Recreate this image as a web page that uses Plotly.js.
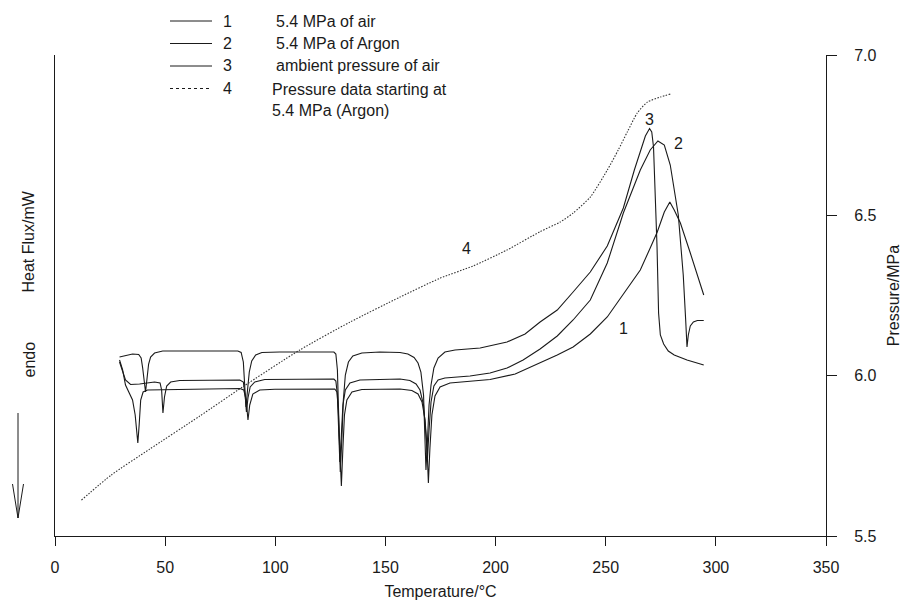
<!DOCTYPE html>
<html>
<head>
<meta charset="utf-8">
<script src="https://cdn.plot.ly/plotly-3.0.1.min.js"></script>
<style>html,body{margin:0;padding:0;background:#fff;}#chart{width:902px;height:607px;}</style>
</head>
<body>
<div id="chart"></div>
<script>
// ---- data ----
const curve1T = [29.3,30.7,32.0,33.4,35.2,36.4,37.0,37.6,38.2,38.9,40.0,42.0,83.9,85.7,86.8,87.6,88.4,89.8,92.95,99.8,127.0,128.0,128.6,129.3,130.0,130.7,131.4,132.5,134.8,139.3,156.6,162.0,164.8,166.6,168.0,168.9,169.5,170.2,171.1,172.5,174.8,179.3,188.4,197.5,208.9,220.2,228,235.2,243,250.7,258.9,265.7,270.2,273.4,276.6,279.1,281.1,283.9,288.4,291.6,294.5];
const curve1HF = [17.6,16.6,15.1,14.4,13.6,12.1,10.6,9.3,11.1,13.6,14.4,14.6,14.75,14.6,13.6,11.6,13.1,14.2,14.6,14.67,14.7,14.4,12.6,8.8,5.0,8.8,12.1,13.6,14.4,14.65,14.7,14.55,14.2,13.4,11.6,8.8,5.3,8.8,12.1,14.0,14.9,15.3,15.5,15.65,16.2,17.3,18.1,18.9,20.2,21.9,24.4,26.6,28.8,30.4,32.4,33.4,32.6,31.3,28.3,26.1,24.1];

const curve2T = [29.3,30.7,32.0,34.3,38.4,45.2,47.7,48.4,49.0,49.7,50.7,52.5,56.6,83.9,85.5,86.3,86.9,87.6,88.6,90.7,95.2,126.6,127.5,128.2,128.9,129.3,130.0,130.7,131.8,133.9,138.4,156.6,161.1,163.9,165.7,167.3,168.4,169.1,169.8,170.7,172.0,173.9,177.0,188.4,197.5,205.2,212.5,220.2,228,235.2,243,250.7,258,265.7,270.2,273.7,276.6,279.3,282.95,285.2,286.3,286.9,287.5,288.4,289.8,291.6,294.5];
const curve2HF = [17.4,16.4,15.6,15.15,15.2,15.4,15.3,14.6,12.3,13.9,15.0,15.4,15.55,15.6,15.4,14.1,12.4,13.8,14.9,15.4,15.65,15.7,15.5,14.1,10.6,7.4,10.1,13.1,14.6,15.3,15.6,15.7,15.55,15.2,14.6,13.1,10.1,7.8,10.6,13.4,15.0,15.6,15.8,16.0,16.3,16.8,17.6,18.7,20.0,21.6,23.6,27.3,32.3,36.6,38.6,39.5,39.1,37.1,32.1,26.1,21.6,18.9,20.1,21.0,21.4,21.55,21.55];

const curve3T = [29.3,32.5,35.2,38.0,39.1,39.8,40.5,41.1,41.8,42.5,43.4,45.2,48.9,65.7,83.0,84.5,85.5,86.1,86.7,87.4,88.2,89.3,91.1,93.9,102,126.6,127.5,128.2,128.9,129.5,130.2,130.9,131.8,133.2,135.2,139.3,147.5,156.6,160.2,163.0,164.8,166.1,167.3,168.0,168.4,169.1,169.8,170.7,172.0,173.9,177.0,181.6,193,205.2,213.4,220.2,228,235.2,243,250.7,258,263,265.7,268,269.9,270.9,271.7,272.5,273.3,274.0,274.8,276.3,278.4,281.1,286.9,294.5];
const curve3HF = [17.9,18.1,18.2,18.15,17.8,16.8,15.3,14.4,15.8,17.2,17.9,18.3,18.5,18.5,18.5,18.35,17.4,15.1,12.9,14.6,16.4,17.5,18.1,18.35,18.4,18.4,18.2,16.6,11.6,6.4,9.6,13.6,16.1,17.4,18.0,18.3,18.4,18.35,18.2,17.85,17.3,16.4,14.1,9.6,6.6,9.6,13.1,15.1,16.8,17.8,18.4,18.6,18.8,19.4,20.2,21.4,22.6,24.4,26.4,29.0,32.8,36.6,38.4,40.0,40.75,40.4,38.9,34.6,28.9,22.3,20.1,19.2,18.5,18.1,17.6,17.1];

const pressT = [12.0,25.5,43.0,65.7,85.2,111.1,133.9,156.6,174.8,189.8,205.2,220.2,229.3,235.2,243,250.7,255.7,259.8,264.3,268.9,274.8,279.3];
const pressP = [5.612,5.690,5.771,5.874,5.965,6.080,6.167,6.245,6.304,6.342,6.392,6.449,6.479,6.507,6.557,6.641,6.704,6.760,6.819,6.853,6.869,6.878];

const legendNumbers = ['1','2','3','4'];
const legendLabels = ['5.4 MPa of air','5.4 MPa of Argon','ambient pressure of air','Pressure data starting at<br>5.4 MPa (Argon)'];
const curveLabels = ['1','2','3','4'];
const curveLabelT = [257.9, 283.1, 269.9, 186.9];
const curveLabelHF = [20.8, 39.3, 41.7, 28.8];

const xTicks = [0,50,100,150,200,250,300,350];
const pTicks = [5.5,6.0,6.5,7.0];

// ---- layout helpers (pixel -> paper) ----
const ML = 55, MR = 76, MT = 55, MB = 71;
const PW = 902 - ML - MR, PH = 607 - MT - MB;
const px = v => (v - ML) / PW;
const py = v => (607 - MB - v) / PH;

const FONT = 'Liberation Sans, Arial, Helvetica, sans-serif';
const INK = '#1a1a1a';

const lineStyle = {color: INK, width: 1.1};
const traces = [
  {x: curve1T, y: curve1HF, mode: 'lines', line: lineStyle, name: '1', hoverinfo: 'skip'},
  {x: curve2T, y: curve2HF, mode: 'lines', line: lineStyle, name: '2', hoverinfo: 'skip'},
  {x: curve3T, y: curve3HF, mode: 'lines', line: lineStyle, name: '3', hoverinfo: 'skip'},
  {x: pressT, y: pressP, yaxis: 'y2', mode: 'lines', line: {color: '#333', width: 1.1, dash: '1.5px,1.5px', shape: 'spline', smoothing: 0.6}, name: '4', hoverinfo: 'skip'}
];

const legendRows = [21, 43.5, 66, 88.5];
const annotations = [];
const shapes = [];
legendNumbers.forEach((n, i) => {
  shapes.push({type: 'line', xref: 'paper', yref: 'paper', x0: px(170), x1: px(212), y0: py(legendRows[i]), y1: py(legendRows[i]),
    line: {color: INK, width: 1, dash: i === 3 ? 'dot' : 'solid'}});
  annotations.push({xref: 'paper', yref: 'paper', x: px(227), y: py(legendRows[i]), text: n, showarrow: false,
    xanchor: 'center', yanchor: 'middle', font: {family: FONT, size: 16, color: INK}});
  annotations.push({xref: 'paper', yref: 'paper', x: px(i === 3 ? 270 : 274), y: py(legendRows[i]), text: legendLabels[i], showarrow: false,
    xanchor: 'left', yanchor: i === 3 ? 'top' : 'middle', yshift: i === 3 ? 10 : 0, align: 'left',
    font: {family: FONT, size: 16, color: INK}});
});
curveLabels.forEach((t, i) => {
  annotations.push({x: curveLabelT[i], y: curveLabelHF[i], xref: 'x', yref: 'y', text: t, showarrow: false,
    font: {family: FONT, size: 16, color: INK}});
});
annotations.push({xref: 'paper', yref: 'paper', x: px(18), y: py(242), text: 'Heat Flux/mW', textangle: -90, showarrow: false,
  font: {family: FONT, size: 16, color: INK}});
annotations.push({xref: 'paper', yref: 'paper', x: px(18), y: py(360), text: 'endo', textangle: -90, showarrow: false,
  font: {family: FONT, size: 16, color: INK}});
// endo arrow
shapes.push({type: 'line', xref: 'paper', yref: 'paper', x0: px(18), x1: px(18), y0: py(413), y1: py(518), line: {color: INK, width: 1}});
shapes.push({type: 'line', xref: 'paper', yref: 'paper', x0: px(12.5), x1: px(18), y0: py(484), y1: py(518), line: {color: INK, width: 1}});
shapes.push({type: 'line', xref: 'paper', yref: 'paper', x0: px(23.5), x1: px(18), y0: py(484), y1: py(518), line: {color: INK, width: 1}});

const layout = {
  width: 902, height: 607, autosize: false,
  margin: {l: ML, r: MR, t: MT, b: MB, pad: 0},
  paper_bgcolor: '#fff', plot_bgcolor: '#fff',
  showlegend: false,
  font: {family: FONT, size: 16, color: INK},
  xaxis: {range: [0, 350], tickvals: xTicks, ticks: 'outside', ticklen: 9, tickcolor: INK, tickwidth: 1,
    showline: true, linecolor: INK, linewidth: 1, showgrid: false, zeroline: false, ticklabelstandoff: 8,
    title: {text: 'Temperature/°C', standoff: 10, font: {family: FONT, size: 16, color: INK}},
    tickfont: {family: FONT, size: 16, color: INK}},
  yaxis: {range: [0, 48.1], showline: true, linecolor: INK, linewidth: 1, ticks: '', showticklabels: false,
    showgrid: false, zeroline: false},
  yaxis2: {range: [5.5, 7.0], overlaying: 'y', side: 'right', tickvals: pTicks, tickformat: '.1f', ticks: 'outside',
    ticklen: 10, tickcolor: INK, tickwidth: 1, showline: true, linecolor: INK, linewidth: 1, showgrid: false,
    zeroline: false, ticklabelstandoff: 14,
    title: {text: 'Pressure/MPa', standoff: 12, font: {family: FONT, size: 16, color: INK}},
    tickfont: {family: FONT, size: 16, color: INK}},
  annotations: annotations,
  shapes: shapes
};

Plotly.newPlot('chart', traces, layout, {displayModeBar: false, staticPlot: true});
</script>
</body>
</html>
